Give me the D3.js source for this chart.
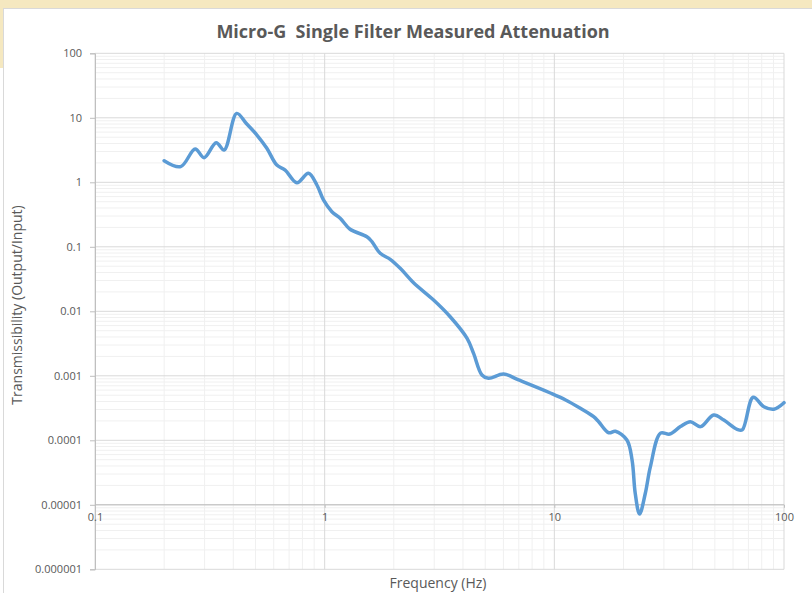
<!DOCTYPE html>
<html>
<head>
<meta charset="utf-8">
<script src="https://cdn.jsdelivr.net/npm/d3@7"></script>
<style>
  body { margin: 0; background: #fff; }
  text { font-family: "Open Sans", "Liberation Sans", sans-serif; fill: #595959; }
</style>
</head>
<body>
<div id="chart"></div>
<script>
// frequency (Hz) and transmissibility
const freqs = [0.2, 0.236, 0.273, 0.2985, 0.337, 0.365, 0.414, 0.455, 0.507, 0.56, 0.619, 0.673,
  0.757, 0.85, 0.925, 0.988, 1.075, 1.168, 1.29, 1.527, 1.606, 1.745, 1.93, 2.133, 2.438, 2.98,
  3.52, 4.17, 4.45, 4.84, 5.17, 6.01, 6.99, 9.61, 11.2, 12.98, 14.83, 15.6, 17.25, 18.45, 20.7,
  21.8, 22.5, 23.5, 24.9, 26.2, 29.0, 31.8, 35.4, 39.1, 43.3, 49.4, 54.7, 62.5, 65.8, 73.4, 81.7,
  90.3, 100];
const transmissibility = [2.16, 1.75, 3.28, 2.41, 4.11, 3.17, 11.7, 8.22, 5.41, 3.37, 1.85, 1.55,
  0.986, 1.38, 0.908, 0.532, 0.35, 0.277, 0.187, 0.1435, 0.12, 0.0793, 0.064, 0.0464, 0.0277, 0.01497,
  0.00824, 0.00381, 0.00223, 0.00103, 0.000914, 0.001066, 0.000861, 0.000541, 0.000422, 0.000313,
  0.000232, 0.000194, 0.000131, 0.000138, 0.000101, 0.0000495, 0.0000151, 0.0000072, 0.0000151,
  0.000039, 0.000129, 0.000125, 0.000163, 0.000194, 0.000163, 0.000247, 0.000206, 0.000148,
  0.000145, 0.000464, 0.000332, 0.000303, 0.000383];
const xTicks = [0.1, 1, 10, 100];
const xTickLabels = ["0.1", "1", "10", "100"];
const yTicks = [100, 10, 1, 0.1, 0.01, 0.001, 0.0001, 0.00001, 0.000001];
const yTickLabels = ["100", "10", "1", "0.1", "0.01", "0.001", "0.0001", "0.00001", "0.000001"];

const width = 812, height = 593;
const margin = {top: 53.3, left: 95, right: 28, bottom: 23.7};
const innerW = width - margin.left - margin.right;
const innerH = height - margin.top - margin.bottom;

const svg = d3.select("#chart").append("svg")
  .attr("width", width).attr("height", height);

// background band and chart area
svg.append("rect").attr("width", width).attr("height", 68).attr("fill", "#f5e8c0");
svg.append("rect").attr("x", 3.5).attr("y", 8.5).attr("width", width + 10).attr("height", height + 10)
  .attr("fill", "#fff").attr("stroke", "#d9d9d9");

svg.append("text").attr("x", 413).attr("y", 38).attr("text-anchor", "middle")
  .style("font-size", "18px").style("font-weight", "bold").style("white-space", "pre")
  .text("Micro-G  Single Filter Measured Attenuation");

const x = d3.scaleLog().domain([0.1, 100]).range([0, innerW]);
const y = d3.scaleLog().domain([0.000001, 100]).range([innerH, 0]);

const g = svg.append("g").attr("transform", `translate(${margin.left},${margin.top})`);

// minor gridlines
const minorX = [], minorY = [];
for (let d = 0.1; d < 100; d *= 10) for (let k = 2; k <= 9; k++) minorX.push(d * k);
for (let d = 0.000001; d < 100; d *= 10) for (let k = 2; k <= 9; k++) minorY.push(d * k);

g.selectAll(".mx").data(minorX).join("line").attr("class", "mx")
  .attr("x1", d => x(d)).attr("x2", d => x(d)).attr("y1", 0).attr("y2", innerH)
  .attr("stroke", "#f0f0f0");
g.selectAll(".my").data(minorY).join("line").attr("class", "my")
  .attr("y1", d => y(d)).attr("y2", d => y(d)).attr("x1", 0).attr("x2", innerW)
  .attr("stroke", "#f0f0f0");
// major gridlines
g.selectAll(".gx").data(xTicks).join("line").attr("class", "gx")
  .attr("x1", d => x(d)).attr("x2", d => x(d)).attr("y1", 0).attr("y2", innerH)
  .attr("stroke", "#d9d9d9");
g.selectAll(".gy").data(yTicks).join("line").attr("class", "gy")
  .attr("y1", d => y(d)).attr("y2", d => y(d)).attr("x1", 0).attr("x2", innerW)
  .attr("stroke", "#d9d9d9");

// y axis
const yAxis = d3.axisLeft(y).tickValues(yTicks).tickSize(5).tickPadding(8)
  .tickFormat((d, i) => yTickLabels[i]);
const yg = g.append("g").call(yAxis);
yg.select(".domain").attr("stroke", "#bfbfbf");
yg.selectAll(".tick line").attr("stroke", "#bfbfbf");
yg.selectAll("text").style("font-size", "11px").attr("fill", "#595959");

// x axis crosses at 0.00001
const xAxis = d3.axisBottom(x).tickValues(xTicks).tickSize(3).tickPadding(5)
  .tickFormat((d, i) => xTickLabels[i]);
const xg = g.append("g").attr("transform", `translate(0,${y(0.00001)})`).call(xAxis);
xg.select(".domain").attr("stroke", "#bfbfbf").attr("d", `M0,0H${innerW}`);
xg.selectAll(".tick line").attr("stroke", "#bfbfbf");
xg.selectAll("text").style("font-size", "11px").attr("fill", "#595959");

// measured curve
const pts = freqs.map((f, i) => [f, transmissibility[i]]);
const line = d3.line().x(d => x(d[0])).y(d => y(d[1])).curve(d3.curveCatmullRom.alpha(0.5));
g.append("path").datum(pts).attr("d", line)
  .attr("fill", "none").attr("stroke", "#5b9bd5").attr("stroke-width", 3.5)
  .attr("stroke-linejoin", "round").attr("stroke-linecap", "round");

// axis titles
svg.append("text").attr("x", 438).attr("y", 588).attr("text-anchor", "middle")
  .style("font-size", "14px").text("Frequency (Hz)");
svg.append("text").attr("transform", "translate(22,305) rotate(-90)").attr("text-anchor", "middle")
  .style("font-size", "14px").text("Transmissibility (Output/Input)");
</script>
</body>
</html>
